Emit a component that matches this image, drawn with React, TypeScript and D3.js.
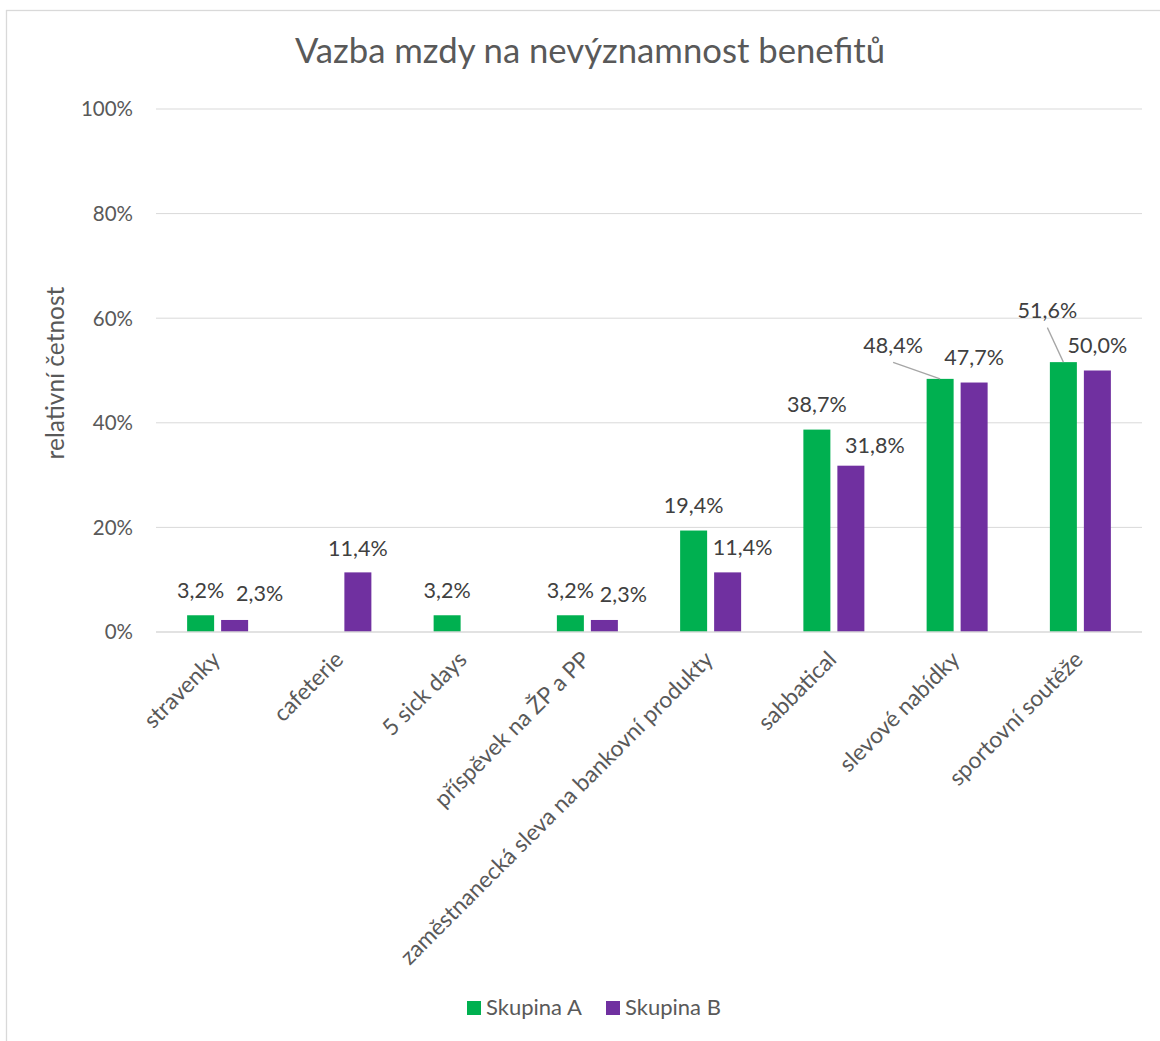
import React from "react";
import * as d3 from "d3";

const title = "Vazba mzdy na nevýznamnost benefitů";
const yAxisTitle = "relativní četnost";
const categories = [
  "stravenky",
  "cafeterie",
  "5 sick days",
  "příspěvek na ŽP a PP",
  "zaměstnanecká sleva na bankovní produkty",
  "sabbatical",
  "slevové nabídky",
  "sportovní soutěže",
];
const seriesNames = ["Skupina A", "Skupina B"];
const skupinaA: (number | null)[] = [3.2, null, 3.2, 3.2, 19.4, 38.7, 48.4, 51.6];
const skupinaB: (number | null)[] = [2.3, 11.4, null, 2.3, 11.4, 31.8, 47.7, 50.0];
const yTicks = [0, 20, 40, 60, 80, 100];

// manual label nudges (as moved in the original), [dx, dy]
const nudgeA: [number, number][] = [[0, 0], [0, 0], [0, 0], [0, 0], [0, 0], [0, 0], [-47, -8.5], [-16, -26.5]];
const nudgeB: [number, number][] = [[25, -1.5], [0, 1.5], [0, 0], [19, 0], [15, 0], [24, 4.5], [0, 0], [0, 0]];

const colors = ["#00B050", "#7030A0"];
const FONT = "Lato, Carlito, Calibri, sans-serif";

export default function App() {
  const W = 1160;
  const H = 1041;
  const left = 156;
  const right = 1142;
  const top = 109;
  const bottom = 632;

  const x = d3.scaleBand<string>().domain(categories).range([left, right]).paddingInner(0).paddingOuter(0);
  const y = d3.scaleLinear().domain([0, 100]).range([bottom, top]);
  const barW = 27;
  const gap = 7;
  const series = [skupinaA, skupinaB];
  const nudges = [nudgeA, nudgeB];
  const fmt = (v: number) => v.toFixed(1).replace(".", ",") + "%";

  return (
    <div style={{ position: "absolute", left: 0, top: 0 }}>
      <svg width={W} height={H} style={{ display: "block", fontFamily: FONT }}>
        <rect x={0} y={0} width={W} height={H} fill="#ffffff" />
        <rect x={6.5} y={10.5} width={1300} height={1200} fill="none" stroke="#d9d9d9" strokeWidth={1.3} />
        <text x={590} y={63} textAnchor="middle" fontSize={34.7} fill="#595959">
          {title}
        </text>
        {yTicks.map((t) => (
          <g key={t}>
            {t !== 0 && (
              <line x1={left} x2={right} y1={y(t)} y2={y(t)} stroke="#d9d9d9" strokeWidth={1} />
            )}
            <text x={133} y={y(t)} dy="0.36em" textAnchor="end" fontSize={20.5} fill="#595959">
              {t}%
            </text>
          </g>
        ))}
        <text
          transform={`translate(64, 373) rotate(-90)`}
          textAnchor="middle"
          fontSize={24.5}
          fill="#595959"
        >
          {yAxisTitle}
        </text>
        {series.map((vals, si) =>
          categories.map((c, i) => {
            const v = vals[i];
            if (v == null) return null;
            const cx = (x(c) as number) + x.bandwidth() / 2;
            const bx = si === 0 ? cx - gap / 2 - barW : cx + gap / 2;
            const by = y(v);
            return (
              <rect
                key={`b${si}-${i}`}
                x={bx}
                y={by}
                width={barW}
                height={bottom - by}
                fill={colors[si]}
              />
            );
          })
        )}
        <line x1={left} x2={right} y1={bottom} y2={bottom} stroke="#d9d9d9" strokeWidth={1.5} />
        {series.map((vals, si) =>
          categories.map((c, i) => {
            const v = vals[i];
            if (v == null) return null;
            const cx = (x(c) as number) + x.bandwidth() / 2;
            const barCx = si === 0 ? cx - gap / 2 - barW / 2 : cx + gap / 2 + barW / 2;
            const by = y(v);
            const [dx, dy] = nudges[si][i];
            const lx = barCx + dx;
            const ly = by - 17.5 + dy;
            const leader = dy < -5;
            return (
              <g key={`l${si}-${i}`}>
                {leader && (
                  <line x1={lx} y1={ly + 9.5} x2={barCx} y2={by} stroke="#a6a6a6" strokeWidth={1.3} />
                )}
                <text x={lx} y={ly} textAnchor="middle" fontSize={21.5} fill="#404040">
                  {fmt(v)}
                </text>
              </g>
            );
          })
        )}
        {categories.map((c) => {
          const cx = (x(c) as number) + x.bandwidth() / 2;
          return (
            <text
              key={c}
              transform={`translate(${cx + 4}, 661) rotate(-45)`}
              textAnchor="end"
              fontSize={22.8}
              fill="#595959"
            >
              {c}
            </text>
          );
        })}
        {seriesNames.map((s, si) => {
          const lx = si === 0 ? 467 : 606;
          return (
            <g key={s}>
              <rect x={lx} y={1001} width={14} height={14} fill={colors[si]} />
              <text x={lx + 19} y={1015} fontSize={22} fill="#595959">
                {s}
              </text>
            </g>
          );
        })}
      </svg>
    </div>
  );
}
